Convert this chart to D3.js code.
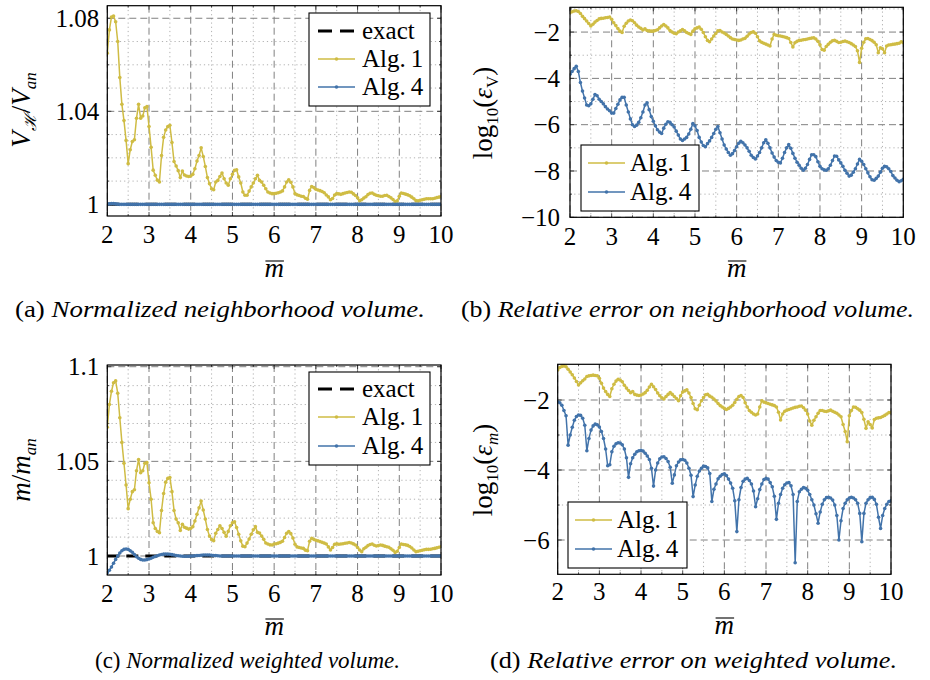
<!DOCTYPE html>
<html>
<head>
<meta charset="utf-8">
<script src="https://cdn.jsdelivr.net/npm/d3@7"></script>
<style>
  body { margin: 0; background: #fff; }
  svg { display: block; }
  svg text { font-family: "Liberation Serif", "Times New Roman", "DejaVu Serif", serif; }
</style>
</head>
<body>
<svg id="fig" width="930" height="680"></svg>
<script>
// sample grid of m-bar (step 0.05 from 2 to 10)
const mBar = d3.range(161).map(i => +(2 + i * 0.05).toFixed(2));
const exactM = [2, 10];
const exactRatio = [1, 1];

// (a) normalized neighborhood volume
const volAlg1 = [
  1.065,1.075,1.0805,1.081,1.0785,1.070,1.0545,1.043,1.036,1.0275,1.0175,1.0235,1.027,1.0278,1.037,1.043,1.037,1.038,1.0415,1.042,
  1.0335,1.0245,1.0147,1.0125,1.0104,1.0096,1.021,1.0288,1.032,1.0334,1.034,1.0266,1.0184,1.0165,1.0145,1.0115,1.0143,1.0126,1.0122,1.012,
  1.0122,1.0129,1.0153,1.0186,1.021,1.0243,1.0206,1.0163,1.0115,1.0089,1.0067,1.0063,1.0096,1.0103,1.012,1.0135,1.011,1.0092,1.0082,1.011,
  1.0129,1.0146,1.0149,1.0118,1.0092,1.0053,1.0039,1.0039,1.0057,1.0075,1.0092,1.011,1.0125,1.0103,1.0096,1.0082,1.0067,1.0053,1.0049,1.0046,
  1.0046,1.0048,1.005,1.0053,1.0058,1.0075,1.0096,1.0106,1.0095,1.0075,1.0046,1.0041,1.0038,1.0035,1.0034,1.0026,1.0022,1.006,1.0077,1.0072,
  1.0065,1.0062,1.0059,1.0055,1.005,1.004,1.0032,1.002,1.0025,1.004,1.0046,1.0045,1.0043,1.0046,1.0049,1.0051,1.0053,1.0052,1.0045,1.0038,
  1.0028,1.0016,1.002,1.0027,1.0033,1.0042,1.0048,1.0049,1.0043,1.0039,1.0037,1.0035,1.0035,1.0038,1.0039,1.0034,1.0028,1.0021,1.0012,1.0015,
  1.0035,1.0049,1.0047,1.0044,1.0041,1.0037,1.0031,1.0024,1.0016,1.0015,1.0018,1.002,1.0022,1.0024,1.0024,1.0024,1.0024,1.0026,1.0029,1.0031,
  1.0034
];
const volAlg4 = [
  1.0002,1.0002,1.0003,1.0003,1.0002,1.0001,1,1,1,1,1,1,1,1,1,1,1,1,1,1,
  1,1,1,1,1,1,1,1,1,1,1,1,1,1,1,1,1,1,1,1,
  1,1,1,1,1,1,1,1,1,1,1,1,1,1,1,1,1,1,1,1,
  1,1,1,1,1,1,1,1,1,1,1,1,1,1,1,1,1,1,1,1,
  1,1,1,1,1,1,1,1,1,1,1,1,1,1,1,1,1,1,1,1,
  1,1,1,1,1,1,1,1,1,1,1,1,1,1,1,1,1,1,1,1,
  1,1,1,1,1,1,1,1,1,1,1,1,1,1,1,1,1,1,1,1,
  1,1,1,1,1,1,1,1,1,1,1,1,1,1,1,1,1,1,1,1,
  1
];

// (b) log10 of relative error on neighborhood volume
const errVAlg1 = [
  -1.17,-1.12,-1.09,-1.08,-1.11,-1.2,-1.32,-1.42,-1.52,-1.63,-1.74,-1.66,-1.57,-1.5,-1.43,-1.41,-1.4,-1.38,-1.37,-1.35,
  -1.45,-1.6,-1.72,-1.85,-1.96,-2.02,-1.75,-1.62,-1.52,-1.48,-1.51,-1.6,-1.7,-1.78,-1.84,-1.91,-1.86,-1.93,-1.95,-1.96,
  -1.96,-1.93,-1.9,-1.82,-1.74,-1.67,-1.74,-1.82,-1.93,-2.0,-2.05,-2.07,-2.0,-1.95,-1.89,-1.94,-2.02,-2.06,-2.1,-1.96,
  -1.86,-1.82,-1.78,-1.88,-2.02,-2.2,-2.36,-2.42,-2.3,-2.17,-2.06,-1.95,-1.93,-2.0,-2.04,-2.1,-2.17,-2.24,-2.3,-2.32,
  -2.34,-2.36,-2.34,-2.3,-2.27,-2.18,-2.08,-2.02,-1.99,-2.05,-2.2,-2.38,-2.44,-2.48,-2.52,-2.56,-2.6,-2.3,-2.1,-2.14,
  -2.16,-2.17,-2.19,-2.21,-2.24,-2.28,-2.45,-2.64,-2.46,-2.4,-2.36,-2.35,-2.33,-2.32,-2.3,-2.28,-2.26,-2.25,-2.3,-2.4,
  -2.55,-2.75,-2.78,-2.62,-2.53,-2.44,-2.38,-2.36,-2.4,-2.45,-2.44,-2.41,-2.39,-2.42,-2.45,-2.5,-2.56,-2.62,-2.81,-3.31,
  -2.7,-2.44,-2.29,-2.28,-2.32,-2.37,-2.44,-2.55,-2.89,-2.68,-2.72,-2.89,-2.6,-2.56,-2.55,-2.53,-2.52,-2.5,-2.48,-2.42,
  -2.46
];
const errVAlg4 = [
  -3.82,-3.7,-3.58,-3.48,-3.7,-4.18,-4.55,-4.85,-5.15,-5.18,-5.1,-4.9,-4.7,-4.75,-4.9,-5.0,-5.1,-5.22,-5.32,-5.4,
  -5.5,-5.5,-5.3,-5.12,-4.93,-4.82,-4.82,-5.15,-5.45,-5.75,-6.0,-6.08,-6.02,-5.9,-5.7,-5.45,-5.15,-5.05,-5.35,-5.65,
  -5.85,-6.05,-6.22,-6.32,-6.38,-6.15,-5.98,-5.87,-5.9,-6.0,-6.1,-6.28,-6.45,-6.62,-6.68,-6.62,-6.55,-6.4,-6.2,-5.95,
  -6.05,-6.25,-6.55,-6.75,-6.9,-6.95,-6.82,-6.7,-6.55,-6.38,-6.2,-6.08,-6.35,-6.62,-6.88,-7.05,-7.2,-7.32,-7.25,-7.12,
  -6.95,-6.8,-6.72,-6.78,-6.88,-7.0,-7.15,-7.32,-7.42,-7.48,-7.35,-7.2,-7.0,-6.78,-6.65,-6.8,-7.0,-7.22,-7.4,-7.55,
  -7.62,-7.65,-7.45,-7.2,-7.0,-6.86,-7.02,-7.24,-7.45,-7.62,-7.75,-7.88,-7.97,-7.88,-7.72,-7.5,-7.3,-7.3,-7.38,-7.6,
  -7.8,-7.9,-7.95,-7.97,-7.9,-7.75,-7.55,-7.35,-7.36,-7.52,-7.65,-7.8,-7.97,-8.1,-8.22,-8.18,-8.05,-7.9,-7.7,-7.5,
  -7.58,-7.72,-7.9,-8.08,-8.25,-8.38,-8.4,-8.32,-8.22,-8.05,-7.88,-7.8,-7.82,-7.9,-8.02,-8.2,-8.3,-8.4,-8.46,-8.42,
  -8.36
];

// (c) normalized weighted volume
const massAlg1 = [
  1.068,1.080,1.087,1.0915,1.0925,1.086,1.073,1.060,1.049,1.0375,1.025,1.030,1.034,1.035,1.045,1.051,1.044,1.045,1.049,1.0493,
  1.0387,1.030,1.0176,1.0145,1.013,1.0123,1.024,1.033,1.039,1.041,1.0415,1.034,1.024,1.0195,1.0175,1.0135,1.0168,1.0152,1.0147,1.0142,
  1.0146,1.0155,1.0185,1.022,1.0255,1.029,1.0243,1.0195,1.014,1.0105,1.0087,1.0081,1.012,1.014,1.016,1.0145,1.0125,1.0104,1.013,1.016,
  1.0176,1.0181,1.015,1.0115,1.008,1.0052,1.0049,1.0068,1.009,1.0115,1.0138,1.0155,1.0125,1.0121,1.0105,1.0088,1.0069,1.0063,1.0059,1.0058,
  1.0063,1.0065,1.0068,1.0072,1.0078,1.0098,1.012,1.0129,1.0118,1.0095,1.0062,1.0048,1.0045,1.0042,1.004,1.0031,1.0028,1.0078,1.0093,1.0088,
  1.0083,1.008,1.0076,1.0072,1.0068,1.0063,1.0048,1.0032,1.0045,1.0062,1.0064,1.0062,1.0063,1.0065,1.0067,1.0069,1.0071,1.0069,1.0064,1.0058,
  1.0045,1.0032,1.0023,1.0038,1.0046,1.0055,1.0061,1.0063,1.0057,1.0053,1.0055,1.0058,1.0056,1.0052,1.0049,1.0046,1.0038,1.003,1.0019,1.0025,
  1.0045,1.0063,1.0061,1.0059,1.0056,1.005,1.0042,1.0032,1.0023,1.0025,1.0028,1.003,1.0033,1.0035,1.0035,1.0036,1.0038,1.004,1.0043,1.0046,
  1.0049
];
const massAlg4 = [
  0.9912,0.9925,0.9942,0.9962,0.9982,1.0,1.0016,1.0028,1.0035,1.0037,1.0035,1.0028,1.002,1.0008,0.9996,0.9988,0.9982,0.9979,0.9979,0.9981,
  0.9984,0.9988,0.9993,0.9997,1.0001,1.0005,1.0008,1.001,1.001,1.001,1.0009,1.0007,1.0005,1.0003,1.0001,1.0,0.9999,0.9999,0.9999,0.9999,
  1.0,1.0,1.0001,1.0002,1.0003,1.0004,1.0005,1.0005,1.0005,1.0005,1.0004,1.0003,1.0002,1.0001,1.0,1.0,1,1,1,1,
  1,1,1,1,1,1,1,1,1,1,1,1,1,1,1,1,1,1,1,1,
  1,1,1,1,1,1,1,1,1,1,1,1,1,1,1,1,1,1,1,1,
  1,1,1,1,1,1,1,1,1,1,1,1,1,1,1,1,1,1,1,1,
  1,1,1,1,1,1,1,1,1,1,1,1,1,1,1,1,1,1,1,1,
  1,1,1,1,1,1,1,1,1,1,1,1,1,1,1,1,1,1,1,1,
  1
];

// (d) log10 of relative error on weighted volume
const errMAlg1 = [
  -1.14,-1.07,-1.04,-1.03,-1.05,-1.12,-1.2,-1.28,-1.37,-1.47,-1.57,-1.51,-1.45,-1.4,-1.33,-1.31,-1.3,-1.29,-1.3,-1.31,
  -1.38,-1.52,-1.66,-1.76,-1.84,-1.9,-1.68,-1.55,-1.46,-1.41,-1.43,-1.48,-1.58,-1.66,-1.73,-1.79,-1.76,-1.84,-1.86,-1.87,
  -1.86,-1.83,-1.79,-1.72,-1.63,-1.55,-1.62,-1.7,-1.8,-1.88,-1.94,-1.97,-1.9,-1.84,-1.79,-1.84,-1.9,-1.96,-2.02,-1.88,
  -1.77,-1.74,-1.71,-1.8,-1.93,-2.1,-2.25,-2.28,-2.15,-2.02,-1.93,-1.85,-1.84,-1.89,-1.92,-1.97,-2.03,-2.1,-2.16,-2.2,
  -2.24,-2.27,-2.24,-2.2,-2.15,-2.07,-1.98,-1.9,-1.87,-1.93,-2.08,-2.2,-2.3,-2.35,-2.4,-2.43,-2.4,-2.2,-2.02,-2.06,
  -2.08,-2.1,-2.12,-2.14,-2.16,-2.2,-2.35,-2.57,-2.4,-2.32,-2.29,-2.27,-2.25,-2.23,-2.21,-2.2,-2.18,-2.17,-2.22,-2.29,
  -2.4,-2.6,-2.72,-2.58,-2.48,-2.38,-2.3,-2.3,-2.32,-2.33,-2.31,-2.29,-2.32,-2.35,-2.38,-2.43,-2.48,-2.7,-2.9,-3.19,
  -2.45,-2.3,-2.2,-2.21,-2.25,-2.29,-2.36,-2.55,-2.81,-2.62,-2.7,-2.8,-2.56,-2.52,-2.51,-2.5,-2.47,-2.44,-2.4,-2.36,
  -2.36
];
const errMAlg4 = [
  -2.05,-2.08,-2.15,-2.3,-2.45,-3.29,-3.0,-2.78,-2.58,-2.47,-2.43,-2.44,-2.52,-2.72,-3.45,-3.1,-2.86,-2.74,-2.69,-2.71,
  -2.77,-2.9,-3.1,-3.4,-3.88,-3.85,-3.48,-3.32,-3.25,-3.22,-3.23,-3.28,-3.4,-3.65,-4.21,-3.82,-3.65,-3.55,-3.48,-3.45,
  -3.44,-3.46,-3.52,-3.6,-3.7,-3.95,-4.46,-4.0,-3.8,-3.68,-3.63,-3.62,-3.67,-3.76,-3.92,-4.38,-4.14,-3.88,-3.77,-3.71,
  -3.7,-3.72,-3.8,-3.95,-4.15,-4.76,-4.43,-4.18,-4.03,-3.95,-3.89,-3.9,-3.94,-4.1,-4.9,-4.55,-4.4,-4.25,-4.18,-4.13,
  -4.11,-4.16,-4.26,-4.37,-4.52,-4.88,-5.76,-4.85,-4.5,-4.32,-4.26,-4.24,-4.3,-4.4,-4.6,-5.05,-4.82,-4.56,-4.4,-4.27,
  -4.24,-4.26,-4.36,-4.48,-4.75,-5.41,-4.95,-4.7,-4.52,-4.42,-4.37,-4.36,-4.45,-4.7,-6.65,-4.9,-4.62,-4.55,-4.5,-4.52,
  -4.58,-4.7,-4.85,-5.0,-5.25,-5.52,-5.2,-4.98,-4.85,-4.79,-4.78,-4.8,-4.86,-5.0,-5.3,-6.0,-5.45,-5.1,-4.95,-4.85,
  -4.8,-4.78,-4.8,-4.85,-4.95,-5.24,-6.05,-5.24,-4.95,-4.85,-4.79,-4.78,-4.84,-4.98,-5.35,-5.67,-5.3,-5.1,-4.98,-4.9,
  -4.88
];

const xTicks = [2, 3, 4, 5, 6, 7, 8, 9, 10];
const xMinor = [2.5, 3.5, 4.5, 5.5, 6.5, 7.5, 8.5, 9.5];
const legendNames = ['exact', 'Alg.\u20091', 'Alg.\u20094'];

const yellow = '#cfbc44';
const blue = '#4273aa';
const serif = '"Liberation Serif", "Times New Roman", "DejaVu Serif", serif';
const svg = d3.select('#fig');

function subTxt(t, parts) {
  // parts: [text, style] ; 'i' italic, 's' subscript
  let shifted = false;
  parts.forEach(([txt, st, fam]) => {
    const sp = t.append('tspan').text(txt);
    const sub = st && st.includes('s');
    if (st && st.includes('i')) sp.attr('font-style', 'italic');
    if (fam) sp.attr('font-family', fam);
    if (sub && !shifted) { sp.attr('dy', 6); shifted = true; }
    if (!sub && shifted) { sp.attr('dy', -6); shifted = false; }
    if (sub) sp.attr('font-size', 17);
  });
}

function drawPanel(p) {
  const x = d3.scaleLinear().domain([2, 10]).range([p.x0, p.x1]);
  const y = d3.scaleLinear().domain(p.yDomain).range([p.y1, p.y0]);
  const g = svg.append('g').attr('font-family', serif);
  const clipId = 'clip-' + p.id;
  svg.append('clipPath').attr('id', clipId)
    .append('rect').attr('x', p.x0).attr('y', p.y0 - 2)
    .attr('width', p.x1 - p.x0).attr('height', p.y1 - p.y0 + 4);

  // minor grid (dotted)
  g.selectAll('.vmin').data(xMinor).join('line')
    .attr('x1', d => x(d)).attr('x2', d => x(d)).attr('y1', p.y0).attr('y2', p.y1)
    .attr('stroke', '#a8a8a8').attr('stroke-width', 0.9).attr('stroke-dasharray', '1.2,3');
  g.selectAll('.hmin').data(p.yMinor).join('line')
    .attr('x1', p.x0).attr('x2', p.x1).attr('y1', d => y(d)).attr('y2', d => y(d))
    .attr('stroke', '#a8a8a8').attr('stroke-width', 0.9).attr('stroke-dasharray', '1.2,3');
  // major grid (dashed)
  g.selectAll('.vmaj').data(xTicks).join('line')
    .attr('x1', d => x(d)).attr('x2', d => x(d)).attr('y1', p.y0).attr('y2', p.y1)
    .attr('stroke', '#808080').attr('stroke-width', 1).attr('stroke-dasharray', '7,4');
  g.selectAll('.hmaj').data(p.yMajor).join('line')
    .attr('x1', p.x0).attr('x2', p.x1).attr('y1', d => y(d)).attr('y2', d => y(d))
    .attr('stroke', '#808080').attr('stroke-width', 1).attr('stroke-dasharray', '7,4');

  // ticks on all sides, pointing in
  const tk = g.append('g').attr('stroke', '#222').attr('stroke-width', 0.8);
  xTicks.forEach(v => {
    tk.append('line').attr('x1', x(v)).attr('x2', x(v)).attr('y1', p.y1).attr('y2', p.y1 - 4);
    tk.append('line').attr('x1', x(v)).attr('x2', x(v)).attr('y1', p.y0).attr('y2', p.y0 + 4);
  });
  xMinor.forEach(v => {
    tk.append('line').attr('x1', x(v)).attr('x2', x(v)).attr('y1', p.y1).attr('y2', p.y1 - 2);
    tk.append('line').attr('x1', x(v)).attr('x2', x(v)).attr('y1', p.y0).attr('y2', p.y0 + 2);
  });
  p.yMajor.forEach(v => {
    tk.append('line').attr('x1', p.x0).attr('x2', p.x0 + 4).attr('y1', y(v)).attr('y2', y(v));
    tk.append('line').attr('x1', p.x1).attr('x2', p.x1 - 4).attr('y1', y(v)).attr('y2', y(v));
  });
  p.yMinor.forEach(v => {
    tk.append('line').attr('x1', p.x0).attr('x2', p.x0 + 2).attr('y1', y(v)).attr('y2', y(v));
    tk.append('line').attr('x1', p.x1).attr('x2', p.x1 - 2).attr('y1', y(v)).attr('y2', y(v));
  });

  // data
  const dg = g.append('g').attr('clip-path', `url(#${clipId})`);
  const line = d3.line().x(d => x(d[0])).y(d => y(d[1]));
  p.series.forEach(s => {
    const pts = s.xs.map((v, i) => [v, s.ys[i]]);
    if (s.dashed) {
      dg.append('path').attr('d', line(pts)).attr('fill', 'none')
        .attr('stroke', '#000').attr('stroke-width', 3).attr('stroke-dasharray', '12,7');
      return;
    }
    dg.append('path').attr('d', line(pts)).attr('fill', 'none')
      .attr('stroke', s.color).attr('stroke-width', 1.5).attr('stroke-linejoin', 'round');
    dg.selectAll(null).data(pts).join('circle')
      .attr('cx', d => x(d[0])).attr('cy', d => y(d[1])).attr('r', 1.8)
      .attr('fill', s.color);
  });

  // frame
  g.append('rect').attr('x', p.x0).attr('y', p.y0)
    .attr('width', p.x1 - p.x0).attr('height', p.y1 - p.y0)
    .attr('fill', 'none').attr('stroke', '#000').attr('stroke-width', 1.2);

  // tick labels
  g.selectAll('.xl').data(xTicks).join('text')
    .attr('x', d => x(d)).attr('y', p.xLabY).attr('text-anchor', 'middle')
    .attr('font-size', 25).text(d => d);
  g.selectAll('.yl').data(p.yMajor).join('text')
    .attr('x', p.x0 - p.yLabGap).attr('y', d => y(d)).attr('dy', '0.35em')
    .attr('text-anchor', 'end').attr('font-size', 25)
    .text((d, i) => p.yTickText[i]);

  // axis labels
  const xl = g.append('text').attr('x', (p.x0 + p.x1) / 2).attr('y', p.xTitleY)
    .attr('text-anchor', 'middle').attr('font-size', 27).attr('font-style', 'italic').text('m');
  const bb = xl.node().getBBox();
  g.append('line').attr('x1', bb.x + 1).attr('x2', bb.x + bb.width)
    .attr('y1', p.xTitleY - 16).attr('y2', p.xTitleY - 16)
    .attr('stroke', '#000').attr('stroke-width', 1.1);
  const yl = g.append('text')
    .attr('transform', `translate(${p.yTitle[0]},${p.yTitle[1]}) rotate(-90)`)
    .attr('text-anchor', 'middle').attr('font-size', 27);
  subTxt(yl, p.yTitleParts);

  // legend
  const L = p.legend;
  const lg = g.append('g');
  lg.append('rect').attr('x', L.x0).attr('y', L.y0)
    .attr('width', L.x1 - L.x0).attr('height', L.y1 - L.y0)
    .attr('fill', '#fff').attr('stroke', '#000').attr('stroke-width', 1.1);
  L.items.forEach((it, i) => {
    const ry = L.rows[i];
    if (it.dashed) {
      lg.append('line').attr('x1', L.s0).attr('x2', L.s1).attr('y1', ry).attr('y2', ry)
        .attr('stroke', '#000').attr('stroke-width', 3.2).attr('stroke-dasharray', '14,8');
    } else {
      lg.append('line').attr('x1', L.s0).attr('x2', L.s1).attr('y1', ry).attr('y2', ry)
        .attr('stroke', it.color).attr('stroke-width', 1.5);
      lg.append('circle').attr('cx', (L.s0 + L.s1) / 2).attr('cy', ry).attr('r', 1.8).attr('fill', it.color);
    }
    lg.append('text').attr('x', L.tx).attr('y', ry).attr('dy', '0.33em')
      .attr('font-size', 25).text(it.name);
  });
}

const panels = [
  {
    id: 'a', x0: 107.3, x1: 441, y0: 5.7, y1: 216, yDomain: [0.995, 1.0854],
    yMajor: [1, 1.04, 1.08], yTickText: ['1', '1.04', '1.08'],
    yMinor: [1.01, 1.02, 1.03, 1.05, 1.06, 1.07], yLabGap: 8,
    xLabY: 243, xTitleY: 277, yTitle: [30, 110],
    yTitleParts: [['V', 'i'], ['\u210B', 'si'], ['/'], ['V', 'i'], ['an', 'si']],
    series: [
      { xs: exactM, ys: exactRatio, dashed: true },
      { xs: mBar, ys: volAlg1, color: yellow },
      { xs: mBar, ys: volAlg4, color: blue }
    ],
    legend: { x0: 309, y0: 13, x1: 430, y1: 106, rows: [31, 59, 87], s0: 318, s1: 355, tx: 362,
      items: [{ name: legendNames[0], dashed: true }, { name: legendNames[1], color: yellow }, { name: legendNames[2], color: blue }] }
  },
  {
    id: 'b', x0: 570, x1: 903.3, y0: 7.3, y1: 217.3, yDomain: [-10, -0.93],
    yMajor: [-10, -8, -6, -4, -2], yTickText: ['\u221210', '\u22128', '\u22126', '\u22124', '\u22122'],
    yMinor: [-9, -7, -5, -3, -1], yLabGap: 10,
    xLabY: 245, xTitleY: 277, yTitle: [492, 113],
    yTitleParts: [['log'], ['10', 's'], ['('], ['\u03B5', 'i'], ['V', 's'], [')']],
    series: [
      { xs: mBar, ys: errVAlg1, color: yellow },
      { xs: mBar, ys: errVAlg4, color: blue }
    ],
    legend: { x0: 581, y0: 145, x1: 699, y1: 211, rows: [163, 192], s0: 588, s1: 625, tx: 630,
      items: [{ name: legendNames[1], color: yellow }, { name: legendNames[2], color: blue }] }
  },
  {
    id: 'c', x0: 107.3, x1: 441, y0: 365, y1: 575, yDomain: [0.98996, 1.1009],
    yMajor: [1, 1.05, 1.1], yTickText: ['1', '1.05', '1.1'],
    yMinor: [1.01, 1.02, 1.03, 1.04, 1.06, 1.07, 1.08, 1.09], yLabGap: 8,
    xLabY: 602, xTitleY: 635, yTitle: [30, 470],
    yTitleParts: [['m', 'i'], ['/'], ['m', 'i'], ['an', 'si']],
    series: [
      { xs: exactM, ys: exactRatio, dashed: true },
      { xs: mBar, ys: massAlg1, color: yellow },
      { xs: mBar, ys: massAlg4, color: blue }
    ],
    legend: { x0: 309, y0: 372, x1: 430, y1: 465, rows: [389, 417, 446], s0: 318, s1: 355, tx: 362,
      items: [{ name: legendNames[0], dashed: true }, { name: legendNames[1], color: yellow }, { name: legendNames[2], color: blue }] }
  },
  {
    id: 'd', x0: 557.7, x1: 891, y0: 364.3, y1: 574.3, yDomain: [-6.98, -0.98],
    yMajor: [-6, -4, -2], yTickText: ['\u22126', '\u22124', '\u22122'],
    yMinor: [-5, -3], yLabGap: 8,
    xLabY: 600, xTitleY: 634, yTitle: [492, 470],
    yTitleParts: [['log'], ['10', 's'], ['('], ['\u03B5', 'i'], ['m', 'si'], [')']],
    series: [
      { xs: mBar, ys: errMAlg1, color: yellow },
      { xs: mBar, ys: errMAlg4, color: blue }
    ],
    legend: { x0: 568, y0: 502, x1: 687, y1: 568, rows: [520, 549], s0: 575, s1: 612, tx: 617,
      items: [{ name: legendNames[1], color: yellow }, { name: legendNames[2], color: blue }] }
  }
];

panels.forEach(drawPanel);

// sub-captions
const captions = [
  { tag: '(a)', text: 'Normalized neighborhood volume.', x0: 15, x1: 425, y: 317 },
  { tag: '(b)', text: 'Relative error on neighborhood volume.', x0: 461, x1: 914, y: 317 },
  { tag: '(c)', text: 'Normalized weighted volume.', x0: 95, x1: 400, y: 668 },
  { tag: '(d)', text: 'Relative error on weighted volume.', x0: 490, x1: 897, y: 668 }
];
captions.forEach(c => {
  const t = svg.append('text').attr('x', c.x0).attr('y', c.y)
    .attr('font-family', serif).attr('font-size', 23)
    .attr('textLength', c.x1 - c.x0).attr('lengthAdjust', 'spacingAndGlyphs');
  t.append('tspan').text(c.tag + ' ');
  t.append('tspan').attr('font-style', 'italic').text(c.text);
});
</script>
</body>
</html>
